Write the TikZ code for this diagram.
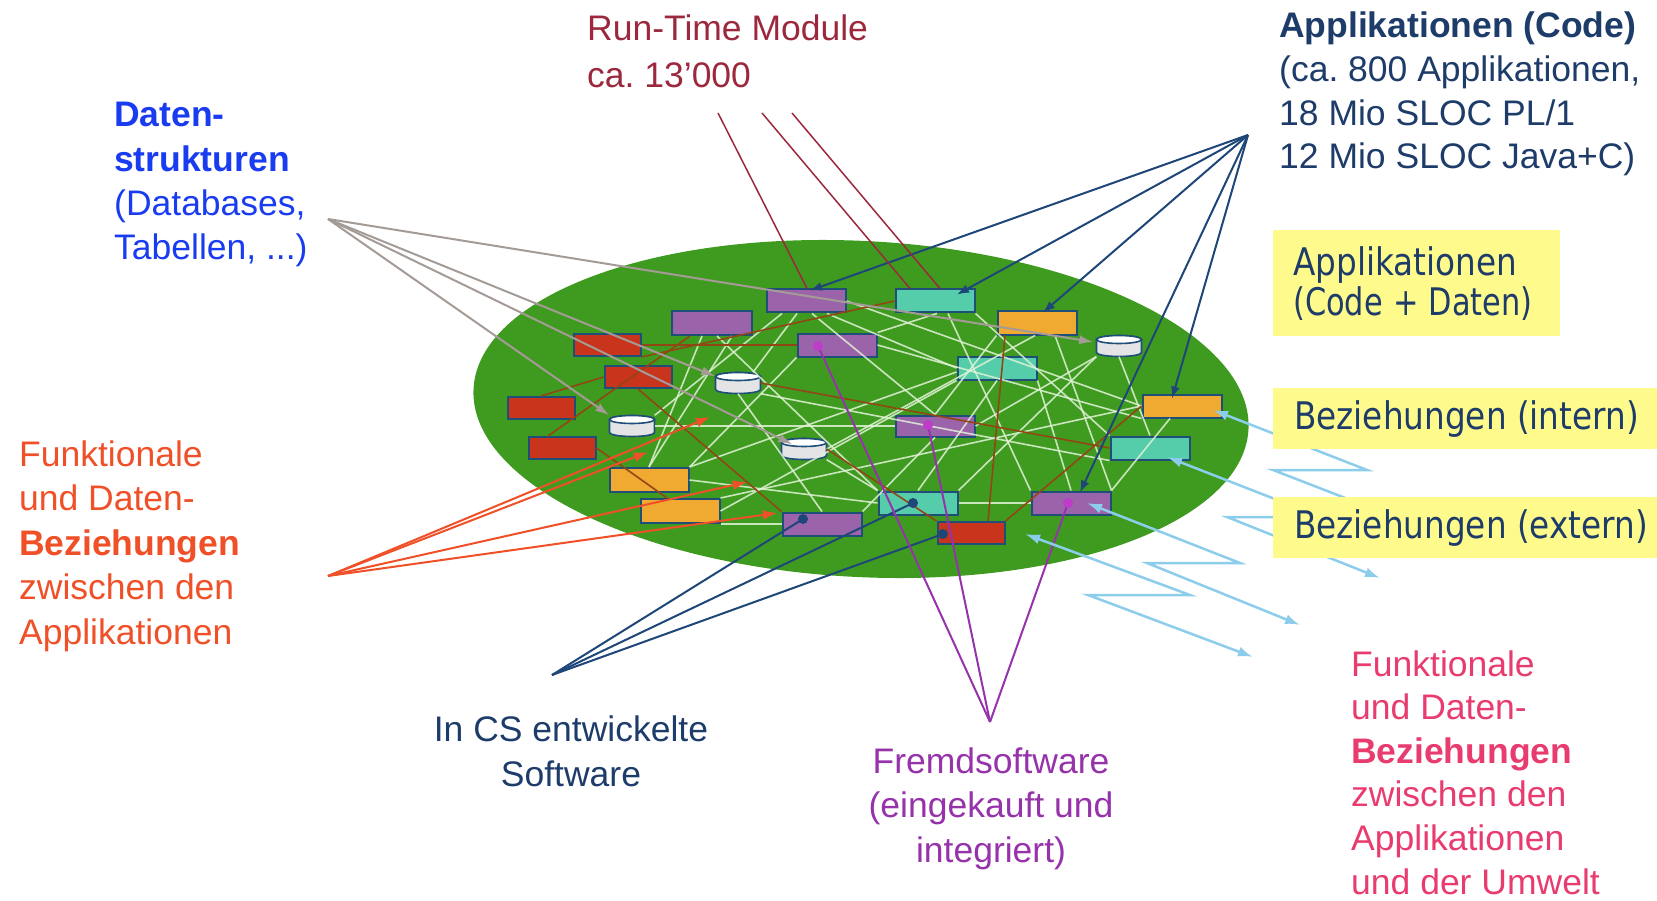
\documentclass[tikz,border=0pt]{standalone}
\usepackage{fontspec}
\usepackage{graphicx}
\setmainfont{Liberation Sans}
\newfontfamily\comicf{DejaVu Sans}
\usetikzlibrary{arrows.meta,calc}
\frenchspacing
\definecolor{gr}{RGB}{63,155,32}
\definecolor{pu}{RGB}{155,100,170}
\definecolor{rd}{RGB}{200,52,28}
\definecolor{orn}{RGB}{240,170,50}
\definecolor{tl}{RGB}{85,205,170}
\definecolor{bd}{RGB}{31,78,121}
\definecolor{nv}{RGB}{30,60,105}
\definecolor{mr}{RGB}{155,40,60}
\definecolor{bl}{RGB}{26,60,240}
\definecolor{orr}{RGB}{240,80,40}
\definecolor{pp}{RGB}{150,50,170}
\definecolor{pk}{RGB}{232,60,110}
\definecolor{yl}{RGB}{255,250,140}
\definecolor{lb}{RGB}{140,205,235}
\definecolor{brn}{RGB}{145,70,20}
\definecolor{wl}{RGB}{225,242,215}
\definecolor{gy}{RGB}{165,155,150}
\definecolor{dk}{RGB}{30,70,120}
\definecolor{dotp}{RGB}{190,60,200}
\definecolor{dbf}{RGB}{228,228,230}
\newcommand\cmc[2][0.86]{\scalebox{#1}[1]{#2}}
\tikzset{
 box/.style={draw=bd, line width=2pt, minimum width=79pt, minimum height=23pt, inner sep=0pt},
 pbox/.style={box, fill=pu},
 rbox/.style={box, fill=rd, minimum width=67pt, minimum height=22pt},
 obox/.style={box, fill=orn},
 tbox/.style={box, fill=tl},
 dbn/.style={minimum width=45pt, minimum height=21pt, inner sep=0pt},
 wline/.style={wl, line width=1.6pt, opacity=0.85},
 bline/.style={brn, line width=1.6pt},
 gline/.style={gy, line width=2pt, -{Latex[length=14pt,width=9pt]}},
 rline/.style={orr, line width=2pt, -{Latex[length=14pt,width=10pt]}},
 cline/.style={dk, line width=2pt, -{Latex[length=12pt,width=9pt]}},
 mline/.style={mr, line width=1.5pt},
 sline/.style={dk, line width=2pt},
 fline/.style={pp, line width=2pt},
 zline/.style={lb, line width=2.5pt, {Latex[length=15pt,width=10pt]}-{Latex[length=15pt,width=10pt]}},
 ybox/.style={fill=yl, anchor=north west, align=left, inner xsep=20pt, inner ysep=0pt, text=nv, font=\comicf\fontsize{38}{40}\selectfont},
 lab/.style={inner sep=0pt, align=left, anchor=base west, font=\fontsize{35.5}{44.4}\selectfont},
 labc/.style={inner sep=0pt, align=center, anchor=base, font=\fontsize{35.5}{44.4}\selectfont},
}
\newcommand\dbdraw[1]{%
 \filldraw[fill=dbf, draw=bd, line width=1.6pt] ($(#1)+(-22.5pt,6.5pt)$) -- ++(0pt,-13pt) arc[start angle=180, end angle=360, x radius=22.5pt, y radius=4pt] -- ++(0pt,13pt) arc[start angle=0, end angle=180, x radius=22.5pt, y radius=4pt] -- cycle;
 \filldraw[fill=white, draw=bd, line width=1.6pt] ($(#1)+(0pt,6.5pt)$) ellipse[x radius=22.5pt, y radius=4pt];}
\begin{document}
\begin{tikzpicture}[x=1pt, y=-1pt]
\useasboundingbox (0,0) rectangle (1657,901);
% green ellipse
\fill[gr, rotate around={-3:(861,409)}] (861,409) ellipse[x radius=388pt, y radius=168pt];
% boxes
\node[pbox] (A) at (806,301) {};
\node[pbox, minimum width=80pt, minimum height=24pt] (B) at (712,323) {};
\node[rbox] (C) at (607,345) {};
\node[rbox] (D) at (638,377) {};
\node[rbox] (E) at (541,408) {};
\node[rbox] (F) at (562,448) {};
\node[pbox] (G) at (837,345) {};
\node[obox, minimum height=24pt] (H) at (649,480) {};
\node[obox, minimum height=24pt] (I) at (680,511) {};
\node[pbox] (J) at (822,524) {};
\node[tbox] (K) at (935,301) {};
\node[obox] (L) at (1037,323) {};
\node[tbox] (M) at (997,368) {};
\node[obox] (N) at (1182,406) {};
\node[pbox, minimum height=21pt] (O) at (935,426) {};
\node[tbox] (P) at (1150,448) {};
\node[tbox] (Q) at (918,503) {};
\node[pbox] (R) at (1071,503) {};
\node[rbox] (S) at (971,533) {};
\node[dbn] (db1) at (632,426) {};
\node[dbn] (db2) at (738,383) {};
\node[dbn] (db3) at (804,449) {};
\node[dbn] (db4) at (1119,346) {};
\dbdraw{db1}\dbdraw{db2}\dbdraw{db3}\dbdraw{db4}
% white web
\draw[wline] ([xshift=-24pt]A.south) -- (db1.north east);
\draw[wline] ([xshift=-9pt]A.south) -- ([xshift=15pt]db2.north);
\draw[wline] ([xshift=6pt]A.south) -- (O.north);
\draw[wline] ([xshift=21pt]A.south) -- (M.west);
\draw[wline] ([xshift=-10pt]B.south) -- (H.north);
\draw[wline] ([xshift=5pt]B.south) -- (Q.north west);
\draw[wline] (H.north east) -- ([yshift=-4pt]M.west);
\draw[wline] (H.east) -- (Q.west);
\draw[wline] (I.north east) -- (N.west);
\draw[wline] (I.east) -- (M.south west);
\draw[wline] ([xshift=2pt]K.south) -- (G.north east);
\draw[wline] ([xshift=13pt]K.south) -- (R.north west);
\draw[wline] ([xshift=-2pt]L.south) -- (db3.east);
\draw[wline] ([xshift=18pt]L.south) -- (R.north east);
\draw[wline] (db4.south west) -- (Q.north east);
\draw[wline] (A.east) -- (N.west);
\draw[wline] ([xshift=-12pt]N.south) -- (R.north east);
\draw[wline] (Q.east) -- (R.west);
\draw[wline] (Q.north) -- (M.south);
\draw[wline] (db3.south east) -- (Q.north west);
\draw[wline] (G.east) -- (N.south west);
\draw[wline] (G.south west) -- (H.north east);
\draw[wline] (K.south east) -- (P.north west);
\draw[wline] (L.south west) -- (O.north);
\draw[wline] (M.south east) -- (R.north);
\draw[wline] (db4.south) -- (P.north);
\draw[wline] (O.south) -- (J.north east);
\draw[wline] (db1.east) -- (O.west);
\draw[wline] (I.south east) -- (J.west);
\draw[wline] (db2.south east) -- (P.south west);
\draw[wline] (H.north) -- ([xshift=20pt]B.south);
\draw[wline] (O.east) -- (db4.south west);
\draw[wline] (J.north) -- (db2.south);
% brown lines
\draw[bline] (C.east) -- (G.west);
\draw[bline] ([xshift=-22pt]B.south) -- ([xshift=-14pt]F.north);
\draw[bline] (E.north) -- (D.west);
\draw[bline] (D.south) -- (J.north west);
\draw[bline] (F.east) -- ([xshift=-13pt]I.north);
\draw[bline] (C.south east) -- (K.west);
\draw[bline] (db2.east) -- (P.west);
\draw[bline] (db3.east) -- (S.north west);
\draw[bline] ([xshift=-32pt]L.south) -- ([xshift=17pt]S.north);
\draw[bline] (S.north east) -- (N.west);
% anchor coordinates
\coordinate (ds0) at (328,219);
\coordinate (ac0) at (1248,135);
\coordinate (fl0) at (328,576);
\coordinate (cs0) at (552,675);
\coordinate (fs0) at (990,722);
\coordinate (rt1) at (718,113);
\coordinate (rt2) at (762,113);
\coordinate (rt3) at (792,113);
\coordinate (f1) at (710,417);
\coordinate (f2) at (648,452);
\coordinate (f3) at (747,482);
\coordinate (f4) at (777,513);
\coordinate (Jd) at (803,519);
\coordinate (Qd) at (913,503);
\coordinate (Sd) at (943,534);
\coordinate (Gd) at (818,346);
\coordinate (Od) at (928,425);
\coordinate (Rd) at (1068,503);
% gray data arrows
\draw[gline] (ds0) -- ([xshift=-3pt,yshift=4pt]db4.west);
\draw[gline] (ds0) -- ([yshift=-4pt]db2.north west);
\draw[gline] (ds0) -- (db1.north west);
\draw[gline] (ds0) -- ([xshift=11pt,yshift=-6pt]db3.north west);
% red arrows
\draw[rline] (fl0) -- (f1);
\draw[rline] (fl0) -- (f2);
\draw[rline] (fl0) -- (f3);
\draw[rline] (fl0) -- (f4);
% code arrows
\draw[cline] (ac0) -- ([xshift=4pt,yshift=-2pt]A.north);
\draw[cline] (ac0) -- ([xshift=22pt,yshift=-6pt]K.north);
\draw[cline] (ac0) -- ([xshift=6pt,yshift=-2pt]L.north);
\draw[cline] (ac0) -- ([xshift=-10pt,yshift=-5pt]N.north);
\draw[cline] (ac0) -- ([xshift=9pt,yshift=-2pt]R.north);
% run-time lines
\draw[mline] (rt1) -- ([xshift=1pt]A.north);
\draw[mline] (rt2) -- ([xshift=-25pt]K.north);
\draw[mline] (rt3) -- ([xshift=5pt]K.north);
% In CS lines
\draw[sline] (cs0) -- (Jd);
\draw[sline] (cs0) -- (Qd);
\draw[sline] (cs0) -- (Sd);
\fill[dk] (Jd) circle[radius=5pt] (Qd) circle[radius=5pt] (Sd) circle[radius=5pt];
% Fremdsoftware lines
\draw[fline] (fs0) -- (Gd);
\draw[fline] (fs0) -- (Od);
\draw[fline] (fs0) -- (Rd);
\fill[dotp] (Gd) circle[radius=5pt] (Od) circle[radius=5pt] (Rd) circle[radius=5pt];
% external zigzags
\coordinate (z1a) at (1213,410); \coordinate (z1e) at (1420,527);
\coordinate (z2a) at (1167,457); \coordinate (z2e) at (1380,578);
\coordinate (z3a) at (1087,503); \coordinate (z3e) at (1300,625);
\coordinate (z4a) at (1025,534); \coordinate (z4e) at (1253,657);
\draw[zline] (z1a) -- (1367,470) -- (1273,470) -- (z1e);
\draw[zline] (z2a) -- (1321,517) -- (1227,517) -- (z2e);
\draw[zline] (z3a) -- (1240,563) -- (1147,563) -- (z3e);
\draw[zline] (z4a) -- (1190,595) -- (1088,595) -- (z4e);
% yellow boxes
\node[ybox, minimum width=287pt, minimum height=106pt, text width=247pt] (y1) at (1273,230) {\cmc{Applikationen}\\\cmc[0.80]{(Code + Daten)}};
\node[ybox, minimum width=384pt, minimum height=61pt, inner xsep=21pt] (y2) at (1273,388) {\cmc{Beziehungen (intern)}};
\node[ybox, minimum width=384pt, minimum height=61pt, inner xsep=21pt] (y3) at (1273,497) {\cmc{Beziehungen (extern)}};
% labels (base anchor = baseline of last line)
\node[lab, text=mr, font=\fontsize{35.5}{47}\selectfont] (rt) at (587,88) {Run-Time Module\\ca. 13’000};
\node[lab, text=bl] (ds) at (114,260) {\textbf{Daten-}\\\textbf{strukturen}\\(Databases,\\Tabellen, ...)};
\node[lab, text=nv, font=\fontsize{35.5}{43.7}\selectfont] (ac) at (1279,169) {\textbf{Applikationen (Code)}\\(ca. 800 Applikationen,\\18 Mio SLOC PL/1\\12 Mio SLOC Java+C)};
\node[lab, text=orr] (fl) at (19,644) {Funktionale\\und Daten-\\\textbf{Beziehungen}\\zwischen den\\Applikationen};
\node[labc, text=nv] (cs) at (571,786) {In CS entwickelte\\Software};
\node[labc, text=pp] (fs) at (991,862) {Fremdsoftware\\(eingekauft und\\integriert)};
\node[lab, text=pk, font=\fontsize{35.5}{43.6}\selectfont] (fr) at (1351,894) {Funktionale\\und Daten-\\\textbf{Beziehungen}\\zwischen den\\Applikationen\\und der Umwelt};
\end{tikzpicture}
\end{document}
